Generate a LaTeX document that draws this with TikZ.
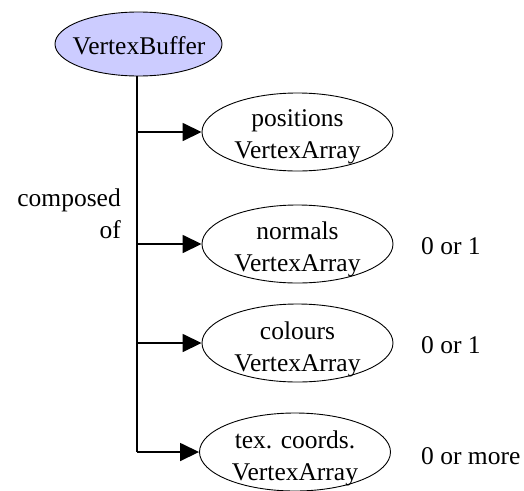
\documentclass[tikz,border=0pt]{standalone}
\usepackage{fontspec}
\setmainfont{Liberation Serif}
\usetikzlibrary{arrows.meta,shapes.geometric}
\definecolor{bufferfill}{RGB}{204,204,255}
\tikzset{
  every node/.style={font=\fontsize{25.5}{32}\selectfont},
  item/.style={ellipse,draw=black,line width=0.9pt,minimum width=191pt,minimum height=78pt,inner sep=0pt},
  itemtext/.style={align=center,inner sep=0pt},
  root/.style={ellipse,draw=black,line width=0.9pt,fill=bufferfill,minimum width=167pt,minimum height=64pt,inner sep=0pt},
  trunk/.style={draw=black,line width=1.6pt},
  branch/.style={draw=black,line width=1.6pt,-{Triangle[length=19pt,width=18pt]}},
  note/.style={anchor=west,inner sep=0pt}
}
\begin{document}
\begin{tikzpicture}[x=1pt,y=-1pt]
  \useasboundingbox (0,0) rectangle (524,490);
  % root buffer: outline and caption
  \node[root] (vb) at (138.5,44) {};
  \node[itemtext] (vbl) at (139,46) {VertexBuffer};
  % component arrays: outline and two-line caption
  \node[item] (pos) at (297.5,132) {};
  \node[itemtext] (posl) at (297.5,137) {positions\\VertexArray};
  \node[item] (nrm) at (297.5,244) {};
  \node[itemtext] (nrml) at (297.5,249) {normals\\VertexArray};
  \node[item] (col) at (297.5,343) {};
  \node[itemtext] (coll) at (297.5,349) {colours\\VertexArray};
  \node[item] (tex) at (295,452) {};
  \node[itemtext] (texl) at (295,458) {tex. coords.\\VertexArray};
  % junctions on the trunk
  \coordinate (j1) at (137,132);
  \coordinate (j2) at (137,244);
  \coordinate (j3) at (137,343);
  \coordinate (j4) at (137,452);
  \draw[trunk] (vb.south -| j1) -- (j4);
  \draw[branch] (j1) -- (pos.west);
  \draw[branch] (j2) -- (nrm.west);
  \draw[branch] (j3) -- (col.west);
  \draw[branch] (j4) -- (tex.west);
  % labels
  \node[anchor=east,align=right,inner sep=0pt] (lbl) at (121,214) {composed\\of};
  \node[note] (m2) at (421,246) {0 or 1};
  \node[note] (m3) at (421,345) {0 or 1};
  \node[note] (m4) at (421,456) {0 or more};
\end{tikzpicture}
\end{document}
